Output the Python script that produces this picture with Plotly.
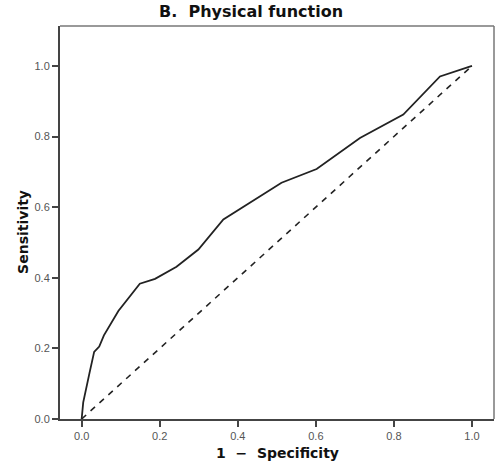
import plotly.graph_objects as go

# ROC curve data (1 - specificity, sensitivity)
fpr = [0.0, 0.004, 0.02, 0.032, 0.045, 0.057, 0.094, 0.149, 0.188, 0.243, 0.299, 0.363, 0.512, 0.602, 0.713, 0.824, 0.918, 1.0]
tpr = [0.0, 0.047, 0.13, 0.19, 0.205, 0.237, 0.306, 0.383, 0.397, 0.431, 0.48, 0.565, 0.669, 0.708, 0.796, 0.862, 0.97, 1.0]

ref_x = [0.0, 1.0]
ref_y = [0.0, 1.0]

tick_vals = [0.0, 0.2, 0.4, 0.6, 0.8, 1.0]
tick_text = ["0.0", "0.2", "0.4", "0.6", "0.8", "1.0"]

title_text = "<b>B.&nbsp;&nbsp;Physical function</b>"
x_title = "<b>1&nbsp;&nbsp;−&nbsp;&nbsp;Specificity</b>"
y_title = "<b>Sensitivity</b>"

label_font = dict(family="DejaVu Sans, Liberation Sans, sans-serif", size=14, color="#111111")
title_font = dict(family="DejaVu Sans, Liberation Sans, sans-serif", size=16, color="#111111")
axis_font = dict(family="Liberation Sans, Arial, sans-serif", size=11, color="#555555")

fig = go.Figure()
fig.add_trace(go.Scatter(x=ref_x, y=ref_y, mode="lines",
                         line=dict(color="#222222", width=1.6, dash="6px,6px"),
                         showlegend=False, hoverinfo="skip"))
fig.add_trace(go.Scatter(x=fpr, y=tpr, mode="lines",
                         line=dict(color="#222222", width=1.8),
                         showlegend=False))

fig.update_layout(
    width=496, height=468,
    margin=dict(l=60, r=2, t=26, b=49, autoexpand=False),
    paper_bgcolor="white", plot_bgcolor="white",
    xaxis=dict(range=[-0.0555, 1.0564], tickvals=tick_vals, ticktext=tick_text,
               showgrid=False, zeroline=False, showline=True, linecolor="#444444", linewidth=2,
               ticks="outside", ticklen=6, tickcolor="#444444", tickwidth=1.5,
               tickfont=axis_font, automargin=False),
    yaxis=dict(range=[0, 1.113], tickvals=tick_vals, ticktext=tick_text,
               showgrid=False, zeroline=False, showline=True, linecolor="#444444", linewidth=2,
               ticks="outside", ticklen=6, tickcolor="#444444", tickwidth=1.5,
               tickfont=axis_font, automargin=False),
    annotations=[
        dict(text=title_text, xref="paper", yref="paper", x=0.44, y=1.036,
             xanchor="center", yanchor="middle", showarrow=False, font=title_font),
        dict(text=x_title, xref="paper", yref="paper", x=0.5, y=-0.0865,
             xanchor="center", yanchor="middle", showarrow=False, font=label_font),
        dict(text=y_title, xref="paper", yref="paper", x=-0.0853, y=0.476,
             xanchor="center", yanchor="middle", showarrow=False, textangle=-90, font=label_font),
    ],
    shapes=[
        dict(type="line", xref="paper", yref="paper", x0=0, x1=1, y0=1, y1=1,
             line=dict(color="#777777", width=1.5)),
        dict(type="line", xref="paper", yref="paper", x0=1, x1=1, y0=0, y1=1,
             line=dict(color="#777777", width=1.5)),
    ],
)

fig.write_html("out.html",
               config={"displayModeBar": False},
               post_script="document.body.style.margin='0px';document.body.style.overflow='hidden';")
